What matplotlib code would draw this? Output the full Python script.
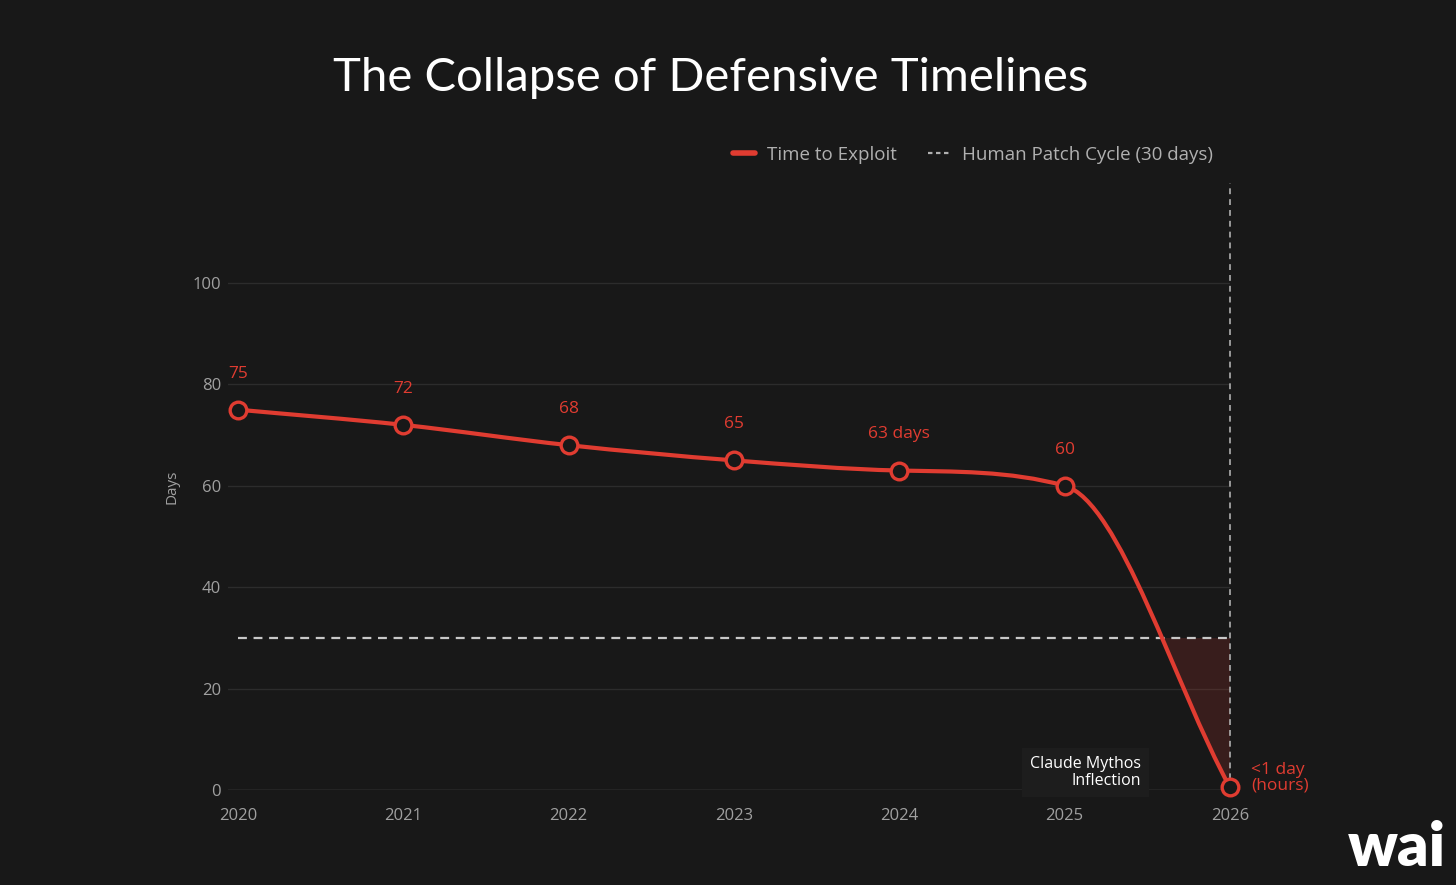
import numpy as np
import matplotlib.pyplot as plt
from matplotlib.path import Path
from matplotlib.patches import PathPatch, Rectangle
from matplotlib.lines import Line2D

# data
years = [2020, 2021, 2022, 2023, 2024, 2025, 2026]
days = [75, 72, 68, 65, 63, 60, 0.5]
point_labels = ['75', '72', '68', '65', '63 days', '60', '<1 day\n(hours)']
patch_cycle = 30
y_ticks = [0, 20, 40, 60, 80, 100]

BG = '#181818'
RED = '#e03c31'
GRAY = '#a0a0a0'

plt.rcParams['font.family'] = ['Open Sans', 'DejaVu Sans']

fig = plt.figure(figsize=(14.56, 8.85), dpi=100, facecolor=BG)
ax = fig.add_axes([228 / 1456, 95 / 885, 1002 / 1456, 607 / 885], facecolor=BG)

ax.set_xlim(2019.94, 2026)
ax.set_ylim(0, 119.7)
for s in ax.spines.values():
    s.set_visible(False)
ax.set_yticks(y_ticks)
ax.set_xticks(years)
ax.tick_params(length=0, colors=GRAY, labelsize=12)
ax.tick_params(axis='x', pad=13)
ax.tick_params(axis='y', pad=5)
for yv in y_ticks[1:]:
    ax.axhline(yv, color='#2c2c2c', lw=1, zorder=1)
ax.axhline(0, color='#5a5a5a', lw=1, zorder=1)

# monotone cubic tangents (chart.js style) -> bezier path
x = np.array(years, dtype=float)
y = np.array(days, dtype=float)
d = np.diff(y) / np.diff(x)
m = np.zeros_like(y)
m[0], m[-1] = d[0], d[-1]
for i in range(1, len(y) - 1):
    m[i] = 0 if d[i - 1] * d[i] <= 0 else (d[i - 1] + d[i]) / 2
for i in range(len(d)):
    a, b = m[i] / d[i], m[i + 1] / d[i]
    mag = a * a + b * b
    if mag > 9:
        tau = 3 / np.sqrt(mag)
        m[i] = a * tau * d[i]
        m[i + 1] = b * tau * d[i]

verts = [(x[0], y[0])]
codes = [Path.MOVETO]
for i in range(len(d)):
    dx = (x[i + 1] - x[i]) / 3
    verts += [(x[i] + dx, y[i] + m[i] * dx), (x[i + 1] - dx, y[i + 1] - m[i + 1] * dx), (x[i + 1], y[i + 1])]
    codes += [Path.CURVE4] * 3
curve = Path(verts, codes)
ax.add_patch(PathPatch(curve, fill=False, edgecolor=RED, lw=3, capstyle='round', zorder=4))

# shaded gap below the patch cycle, right of the curve
dx = (x[-1] - x[-2]) / 3
clip_path = Path([(x[-2], y[-2]), (x[-2] + dx, y[-2] + m[-2] * dx), (x[-1] - dx, y[-1] - m[-1] * dx),
                  (x[-1], y[-1]), (x[-1], 100), (x[-2], 100), (x[-2], y[-2])],
                 [Path.MOVETO, Path.CURVE4, Path.CURVE4, Path.CURVE4, Path.LINETO, Path.LINETO, Path.CLOSEPOLY])
clip_patch = PathPatch(clip_path, transform=ax.transData, visible=False)
ax.add_patch(clip_patch)
shade = Rectangle((x[-2], 0), x[-1] - x[-2], patch_cycle, facecolor=RED, alpha=0.16, lw=0, zorder=2)
ax.add_patch(shade)
shade.set_clip_path(clip_patch)

ax.hlines(patch_cycle, years[0], years[-1], color='#c8c8c8', lw=1.6, linestyles=(0, (4, 3)), zorder=3)
ax.axvline(years[-1] - 0.002, color='#b0b0b0', lw=1.2, ls=(0, (3.5, 3)), zorder=3, clip_on=False)

ax.plot(years, days, ls='none', marker='o', ms=12, mfc=BG, mec=RED, mew=2.4, zorder=5, clip_on=False)

for xi, yi, lab in zip(years[:-1], days[:-1], point_labels[:-1]):
    ax.annotate(lab, (xi, yi), xytext=(0, 26), textcoords='offset points',
                ha='center', va='center', color=RED, fontsize=12.5)
ax.annotate(point_labels[-1], (years[-1], days[-1]), xytext=(15, 7), textcoords='offset points',
            ha='left', va='center', color=RED, fontsize=12.5, linespacing=1.0)

ax.text(2025.46, 3.4, 'Claude Mythos\nInflection', ha='right', va='center', color='white',
        fontsize=11.5, linespacing=1.05, zorder=6,
        bbox=dict(boxstyle='square,pad=0.5', facecolor='#1d1d1d', edgecolor='none'))

fig.text(172 / 1456, 1 - 487 / 885, 'Days', rotation=90, ha='center', va='center', color=GRAY, fontsize=11)

fig.text(711 / 1456, 1 - 91 / 885, 'The Collapse of Defensive Timelines', ha='center', va='baseline',
         color='white', fontsize=34, family=['Lato', 'DejaVu Sans'])

handles = [Line2D([], [], color=RED, lw=4, solid_capstyle='round'),
           Line2D([], [], color='#b0b0b0', lw=1.6, ls=(0, (2, 1.6)))]
fig.legend(handles, ['Time to Exploit', 'Human Patch Cycle (30 days)'], loc='center left',
           bbox_to_anchor=(716 / 1456, 1 - 155 / 885), ncol=2, frameon=False, fontsize=13.5,
           labelcolor='#b0b0b0', handlelength=1.2, handletextpad=0.6, columnspacing=1.7)

fig.text(1446 / 1456, 1 - 866 / 885, 'wai', ha='right', va='baseline', color='white',
         fontsize=44, fontweight='heavy', family=['Lato', 'DejaVu Sans'])

fig.savefig('out.png', dpi=100, facecolor=BG)
